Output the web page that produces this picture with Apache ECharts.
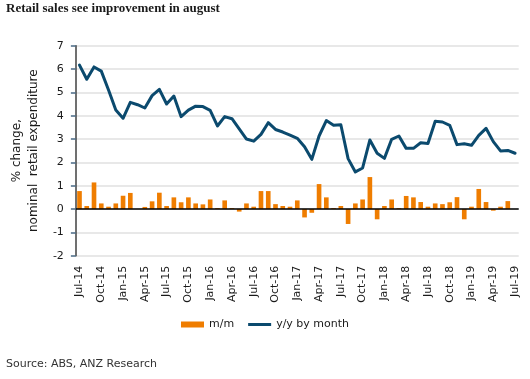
<!DOCTYPE html>
<html>
<head>
<meta charset="utf-8">
<script src="https://cdn.jsdelivr.net/npm/echarts@6/dist/echarts.min.js"></script>
<style>
html,body{margin:0;padding:0;background:#fff;}
#chart{width:530px;height:379px;}
</style>
</head>
<body>
<div id="chart"></div>
<script>
const categories = [
 'Jul-14','Aug-14','Sep-14','Oct-14','Nov-14','Dec-14',
 'Jan-15','Feb-15','Mar-15','Apr-15','May-15','Jun-15','Jul-15','Aug-15','Sep-15','Oct-15','Nov-15','Dec-15',
 'Jan-16','Feb-16','Mar-16','Apr-16','May-16','Jun-16','Jul-16','Aug-16','Sep-16','Oct-16','Nov-16','Dec-16',
 'Jan-17','Feb-17','Mar-17','Apr-17','May-17','Jun-17','Jul-17','Aug-17','Sep-17','Oct-17','Nov-17','Dec-17',
 'Jan-18','Feb-18','Mar-18','Apr-18','May-18','Jun-18','Jul-18','Aug-18','Sep-18','Oct-18','Nov-18','Dec-18',
 'Jan-19','Feb-19','Mar-19','Apr-19','May-19','Jun-19','Jul-19'
];
const mmValues = [
 0.77,0.13,1.14,0.24,0.10,0.24,0.57,0.69,0.00,0.09,
 0.33,0.70,0.13,0.50,0.29,0.50,0.24,0.20,0.41,0.04,
 0.37,0.04,-0.11,0.24,0.10,0.77,0.77,0.21,0.13,0.10,
 0.37,-0.36,-0.16,1.07,0.50,0.04,0.13,-0.64,0.24,0.41,
 1.37,-0.44,0.13,0.41,0.04,0.56,0.50,0.30,0.10,0.24,
 0.21,0.29,0.51,-0.44,0.10,0.86,0.30,-0.07,0.10,0.34,
 0.00
];
const yyValues = [
 6.17,5.56,6.09,5.91,5.10,4.24,3.89,4.57,4.47,4.33,
 4.86,5.13,4.50,4.84,3.96,4.24,4.41,4.39,4.23,3.56,
 3.96,3.87,3.44,3.00,2.91,3.20,3.70,3.41,3.30,3.17,
 3.03,2.67,2.13,3.13,3.79,3.59,3.61,2.16,1.59,1.76,
 2.96,2.39,2.17,2.99,3.13,2.60,2.60,2.84,2.81,3.76,
 3.73,3.59,2.76,2.80,2.73,3.16,3.46,2.89,2.49,2.51,
 2.39
];
const seriesNames = ['m/m', 'y/y by month'];
const titleText = 'Retail sales see improvement in august';
const sourceText = 'Source: ABS, ANZ Research';
const yAxisName = '% change,\nnominal  retail expenditure';

const font = 'DejaVu Sans';
const chart = echarts.init(document.getElementById('chart'), null, {renderer: 'canvas'});
chart.setOption({
  animation: false,
  backgroundColor: '#ffffff',
  title: [
    {text: titleText, left: 6, top: 2, padding: 0,
     textStyle: {fontFamily: 'Liberation Serif', fontWeight: 'bold', fontSize: 13, color: '#1a1a1a'}},
    {text: sourceText, left: 6, top: 359, padding: 0,
     textStyle: {fontFamily: font, fontWeight: 'normal', fontSize: 11, color: '#333333'}}
  ],
  legend: {
    left: 176, top: 314, itemWidth: 23, itemHeight: 6, itemGap: 14,
    textStyle: {fontFamily: font, fontSize: 11, color: '#1a1a1a'},
    data: [
      {name: seriesNames[0], icon: 'rect'},
      {name: seriesNames[1], icon: 'path://M0,0L23,0L23,3L0,3Z'}
    ]
  },
  grid: {left: 69.6, right: 11.3, top: 45.7, bottom: 123.3, containLabel: false},
  xAxis: {
    type: 'category', data: categories, boundaryGap: true,
    axisLine: {show: false, onZero: false},
    axisTick: {show: false},
    axisLabel: {interval: 2, rotate: 90, margin: 10, fontFamily: font, fontSize: 11, color: '#1a1a1a'},
    splitLine: {show: false}
  },
  yAxis: {
    type: 'value', min: -2, max: 7, interval: 1,
    name: yAxisName, nameLocation: 'middle', nameGap: 23, nameRotate: 90,
    nameTextStyle: {fontFamily: font, fontSize: 12, color: '#1a1a1a', lineHeight: 17, align: 'center'},
    axisLine: {show: true, lineStyle: {color: '#404040', width: 1.5}},
    axisTick: {show: true, length: 5, lineStyle: {color: '#4a6a85', width: 1.5}},
    axisLabel: {fontFamily: font, fontSize: 11, color: '#1a1a1a', margin: 12},
    splitLine: {show: true, lineStyle: {color: '#e0e0e0', width: 1.5}}
  },
  series: [
    {
      name: seriesNames[0], type: 'bar', data: mmValues,
      barCategoryGap: '36%',
      itemStyle: {color: '#ef7d00'},
      markLine: {
        silent: true, symbol: 'none', label: {show: false},
        lineStyle: {color: '#000000', width: 1.5, type: 'solid'},
        data: [{yAxis: 0}]
      }
    },
    {
      name: seriesNames[1], type: 'line', data: yyValues,
      symbol: 'none', showSymbol: false, smooth: false,
      lineStyle: {color: '#0b4a6e', width: 3, join: 'round', cap: 'round'},
      itemStyle: {color: '#0b4a6e'}
    }
  ]
});
</script>
</body>
</html>
